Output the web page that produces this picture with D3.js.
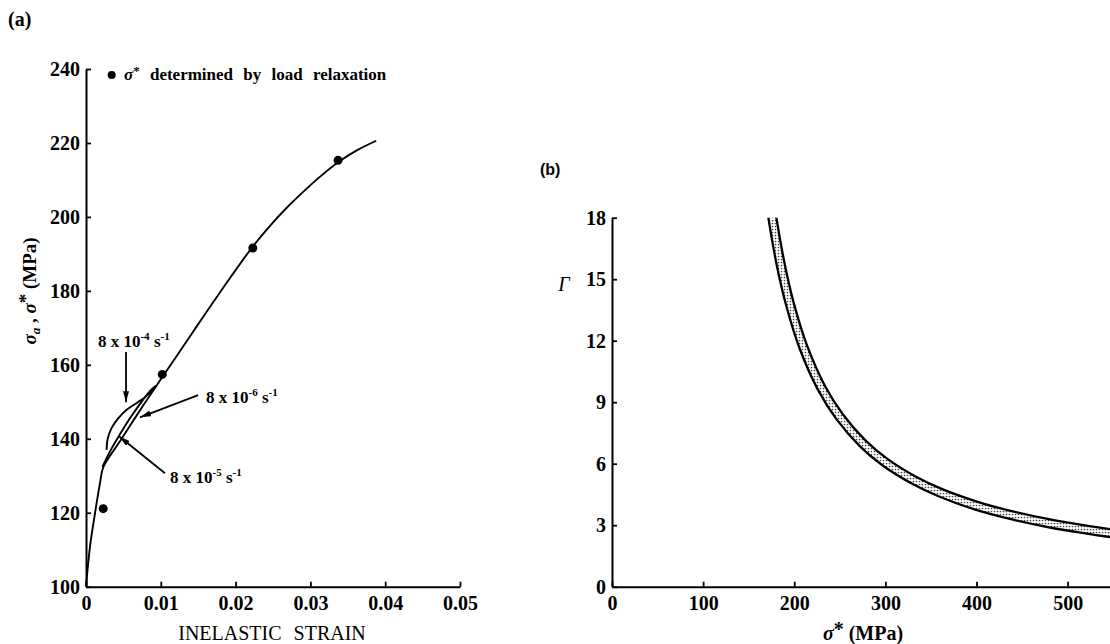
<!DOCTYPE html>
<html><head><meta charset="utf-8">
<script src="https://cdn.jsdelivr.net/npm/d3@7"></script>
<style>
body{margin:0;background:#fff;}
svg{display:block;font-family:"Liberation Serif","Times New Roman",serif;}
</style></head><body>
<svg id="c" width="1110" height="644"></svg>
<script>
// ---------- Panel (a) data ----------
const strainTicks = [0, 0.01, 0.02, 0.03, 0.04, 0.05];
const strainTickLabels = ["0", "0.01", "0.02", "0.03", "0.04", "0.05"];
const stressTicks = [100, 120, 140, 160, 180, 200, 220, 240];

// main stress-strain curve (inelastic strain, stress MPa)
const mainStrain = [0, 0.00053, 0.0012, 0.00187, 0.00231, 0.0045, 0.0068, 0.0091, 0.0102, 0.0126, 0.0148, 0.0170, 0.0193, 0.0223, 0.0246, 0.0268, 0.0291, 0.0313, 0.0337, 0.0362, 0.0388];
const mainStress = [100, 110.8, 119.8, 128.0, 132.3, 139.2, 146.4, 153.4, 156.7, 163.8, 170.4, 176.9, 183.6, 192.0, 197.6, 202.4, 206.9, 210.9, 214.8, 218.0, 220.6];

// strain-rate curves
const rate4Strain = [0.00275, 0.0029, 0.0034, 0.0043, 0.0054, 0.0068, 0.0081, 0.0094];
const rate4Stress = [137.0, 140.0, 142.8, 145.5, 147.8, 149.7, 151.6, 154.4];
const rate5Strain = [0.0022, 0.0030, 0.0043, 0.0059, 0.0075, 0.0086, 0.0093];
const rate5Stress = [132.4, 135.8, 140.4, 145.6, 150.2, 153.0, 154.3];

// sigma* by load relaxation
const relaxStrain = [0.0023, 0.0102, 0.0223, 0.0337];
const relaxStress = [121.1, 157.4, 191.6, 215.3];

// rate annotations
const rateExponents = ["-4", "-6", "-5"];
const rateLabelStrain = [0.0016, 0.01604, 0.01123];
const rateLabelStress = [164.8, 149.6, 128.1];
const rateArrowFromStrain = [0.00535, 0.0150, 0.01056];
const rateArrowFromStress = [163.5, 151.8, 130.7];
const rateArrowToStrain = [0.00535, 0.00722, 0.00445];
const rateArrowToStress = [149.9, 145.8, 140.6];

// ---------- Panel (b) data ----------
const sigmaTicks = [0, 100, 200, 300, 400, 500];
const gammaTicks = [0, 3, 6, 9, 12, 15, 18];
const bandUpperSigma = [176.3, 180.3, 189.3, 199.2, 214.1, 233.9, 253.5, 278.1, 302.6, 332.1, 361.7, 401.3, 441.0, 480.8, 520.7, 550.6];
const bandUpperGamma = [19.25, 18.03, 15.79, 13.88, 11.76, 9.78, 8.40, 7.14, 6.22, 5.40, 4.77, 4.14, 3.66, 3.28, 2.98, 2.78];
const bandLowerSigma = [167.7, 171.7, 180.7, 190.8, 205.9, 226.1, 246.5, 271.9, 297.4, 327.9, 358.3, 398.7, 439.0, 479.2, 519.3, 549.4];
const bandLowerGamma = [19.19, 17.97, 15.71, 13.78, 11.62, 9.60, 8.16, 6.86, 5.90, 5.06, 4.41, 3.76, 3.28, 2.90, 2.60, 2.40];

// ---------- drawing ----------
const svg = d3.select("#c");
const defs = svg.append("defs");
const pat = defs.append("pattern").attr("id", "dots").attr("width", 3).attr("height", 3)
  .attr("patternUnits", "userSpaceOnUse");
pat.append("rect").attr("width", 3).attr("height", 3).attr("fill", "#fff");
pat.append("circle").attr("cx", 1.5).attr("cy", 1.5).attr("r", 0.85).attr("fill", "#444");
defs.append("marker").attr("id", "arr").attr("viewBox", "0 0 11 6").attr("refX", 11).attr("refY", 3)
  .attr("markerWidth", 11).attr("markerHeight", 6).attr("markerUnits", "userSpaceOnUse").attr("orient", "auto")
  .append("path").attr("d", "M0,0L11,3L0,6Z").attr("fill", "#000");

const FONT = '"Liberation Serif","Times New Roman",serif';

function styleAxis(g) {
  g.attr("font-family", FONT).attr("font-size", 20).attr("font-weight", "bold");
  g.select("path.domain").attr("stroke", "#000").attr("stroke-width", 2);
  g.selectAll(".tick line").attr("stroke", "#000").attr("stroke-width", 1.8);
  g.selectAll(".tick text").attr("fill", "#000");
}

// Panel (a)
const xL = d3.scaleLinear().domain([0, 0.05]).range([86, 460]);
const yL = d3.scaleLinear().domain([100, 240]).range([586.7, 69]);

svg.append("g").attr("transform", `translate(0,${yL(100)})`)
  .call(d3.axisBottom(xL).tickValues(strainTicks).tickFormat((d, i) => strainTickLabels[i])
    .tickSizeInner(-5).tickSizeOuter(0).tickPadding(9))
  .call(styleAxis);
svg.append("g").attr("transform", `translate(${xL(0)},0)`)
  .call(d3.axisLeft(yL).tickValues(stressTicks).tickFormat(d3.format("d"))
    .tickSizeInner(-5).tickSizeOuter(0).tickPadding(6))
  .call(styleAxis);

const lineL = d3.line().x(d => xL(d[0])).y(d => yL(d[1])).curve(d3.curveCatmullRom.alpha(0.5));
const curvesL = [
  d3.zip(mainStrain, mainStress),
  d3.zip(rate4Strain, rate4Stress),
  d3.zip(rate5Strain, rate5Stress)
];
svg.append("g").selectAll("path").data(curvesL).join("path")
  .attr("d", lineL).attr("fill", "none").attr("stroke", "#000").attr("stroke-width", 1.9);

svg.append("g").selectAll("circle").data(d3.zip(relaxStrain, relaxStress)).join("circle")
  .attr("cx", d => xL(d[0])).attr("cy", d => yL(d[1])).attr("r", 4.5).attr("fill", "#000");

// arrows
svg.append("g").selectAll("line").data(d3.range(3)).join("line")
  .attr("x1", i => xL(rateArrowFromStrain[i])).attr("y1", i => yL(rateArrowFromStress[i]))
  .attr("x2", i => xL(rateArrowToStrain[i])).attr("y2", i => yL(rateArrowToStress[i]))
  .attr("stroke", "#000").attr("stroke-width", 1.8).attr("marker-end", "url(#arr)");

// rate labels
const rl = svg.append("g").attr("font-family", FONT).attr("font-size", 17).attr("font-weight", "bold");
d3.range(3).forEach(i => {
  const t = rl.append("text").attr("x", xL(rateLabelStrain[i])).attr("y", yL(rateLabelStress[i]));
  t.append("tspan").text("8 x 10");
  t.append("tspan").attr("font-size", 11).attr("dy", -7).text(rateExponents[i]);
  t.append("tspan").attr("dy", 7).text(" s");
  t.append("tspan").attr("font-size", 11).attr("dy", -7).text("-1");
});

// legend
svg.append("circle").attr("cx", 111.7).attr("cy", 75).attr("r", 4).attr("fill", "#000");
const lg = svg.append("text").attr("x", 124).attr("y", 80).attr("font-family", FONT)
  .attr("font-size", 17).attr("font-weight", "bold").attr("word-spacing", 6);
lg.append("tspan").attr("font-style", "italic").text("σ");
lg.append("tspan").attr("font-size", 13).attr("dy", -5).text("*");
lg.append("tspan").attr("dy", 5).text(" determined by load relaxation");

// axis titles (a)
svg.append("text").attr("x", 272).attr("y", 640).attr("text-anchor", "middle")
  .attr("font-family", FONT).attr("font-size", 20).attr("word-spacing", 7).text("INELASTIC STRAIN");
const yt = svg.append("text").attr("transform", "translate(36,291) rotate(-90)").attr("text-anchor", "middle")
  .attr("font-family", FONT).attr("font-size", 19).attr("font-weight", "bold");
yt.append("tspan").attr("font-style", "italic").text("σ");
yt.append("tspan").attr("font-style", "italic").attr("font-size", 13).attr("dy", 4).text("a");
yt.append("tspan").attr("dy", -4).text(" , ");
yt.append("tspan").attr("font-style", "italic").text("σ");
yt.append("tspan").attr("dy", -4).text("*");
yt.append("tspan").attr("dy", 4).text(" (MPa)");

svg.append("text").attr("x", 8).attr("y", 26).attr("font-family", FONT).attr("font-size", 20)
  .attr("font-weight", "bold").text("(a)");

// Panel (b)
const xR = d3.scaleLinear().domain([0, 546.5]).range([612, 1110]);
const yR = d3.scaleLinear().domain([0, 18]).range([586.7, 217.7]);

defs.append("clipPath").attr("id", "clipR").append("rect")
  .attr("x", xR(0)).attr("y", yR(18)).attr("width", xR(546.5) - xR(0)).attr("height", yR(0) - yR(18));

const lineR = d3.line().x(d => xR(d[0])).y(d => yR(d[1])).curve(d3.curveCatmullRom.alpha(0.5));
const upper = d3.zip(bandUpperSigma, bandUpperGamma);
const lower = d3.zip(bandLowerSigma, bandLowerGamma);
const bandPath = lineR(upper) + lineR(lower.slice().reverse()).replace(/^M/, "L") + "Z";
const bg = svg.append("g").attr("clip-path", "url(#clipR)");
bg.append("path").attr("d", bandPath).attr("fill", "url(#dots)").attr("stroke", "none");
bg.selectAll("path.edge").data([upper, lower]).join("path").attr("class", "edge")
  .attr("d", lineR).attr("fill", "none").attr("stroke", "#000").attr("stroke-width", 2.3);

svg.append("g").attr("transform", `translate(0,${yR(0)})`)
  .call(d3.axisBottom(xR).tickValues(sigmaTicks).tickFormat(d3.format("d"))
    .tickSizeInner(-5).tickSizeOuter(0).tickPadding(9))
  .call(styleAxis);
svg.append("g").attr("transform", `translate(${xR(0)},0)`)
  .call(d3.axisLeft(yR).tickValues(gammaTicks).tickFormat(d3.format("d"))
    .tickSizeInner(-5).tickSizeOuter(0).tickPadding(6))
  .call(styleAxis);

const xt = svg.append("text").attr("x", 863).attr("y", 640).attr("text-anchor", "middle")
  .attr("font-family", FONT).attr("font-size", 20).attr("font-weight", "bold");
xt.append("tspan").attr("font-style", "italic").text("σ");
xt.append("tspan").attr("dy", -4).text("*");
xt.append("tspan").attr("dy", 4).text(" (MPa)");

svg.append("text").attr("x", 564).attr("y", 291).attr("text-anchor", "middle")
  .attr("font-family", FONT).attr("font-size", 20).attr("font-style", "italic").text("Γ");

svg.append("text").attr("x", 540).attr("y", 175).attr("font-family", '"Liberation Sans",Arial,sans-serif')
  .attr("font-size", 16).attr("font-weight", "bold").text("(b)");
</script>
</body></html>
